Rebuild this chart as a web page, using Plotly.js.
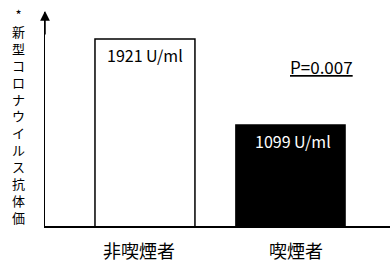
<!DOCTYPE html>
<html><head><meta charset="utf-8">
<script src="https://cdn.plot.ly/plotly-3.0.1.min.js"></script>
<style>html,body{margin:0;padding:0;background:#fff}#chart{width:390px;height:264px}</style>
</head><body><div id="chart"></div>
<script>
const categories = ['非喫煙者', '喫煙者'];
const values = [1921, 1099];
const unit = 'U/ml';
const barColors = ['#ffffff', '#000000'];
const labelColors = ['#000000', '#ffffff'];
const barWidths = [0.687, 0.75];
const pValue = 'P=0.007';
const yTitle = '*新型コロナウイルス抗体価';

const FONT = '"Noto Sans CJK JP", "Noto Sans", sans-serif';
const xs = categories.map((c, i) => i);

const annotations = [];
values.forEach((v, i) => {
  annotations.push({
    x: xs[i], y: v, xref: 'x', yref: 'y', yanchor: 'middle', yshift: -16,
    xshift: i === 1 ? 3 : 0,
    text: v + ' ' + unit, showarrow: false,
    font: {family: FONT, size: 16, color: labelColors[i]}
  });
});
categories.forEach((c, i) => {
  annotations.push({
    x: xs[i], y: 0, xref: 'x', yref: 'paper', yanchor: 'middle', yshift: -24,
    xshift: i === 0 ? -6 : 6,
    text: c, showarrow: false,
    font: {family: FONT, size: 18, color: '#000'}
  });
});
annotations.push({
  x: 0.8, y: 0.745, xref: 'paper', yref: 'paper', xanchor: 'center', yanchor: 'middle',
  text: '<u>' + pValue + '</u>', showarrow: false,
  font: {family: FONT, size: 17, color: '#000'}
});
annotations.push({
  x: 0, y: 1, xref: 'paper', yref: 'paper', xanchor: 'center', yanchor: 'top',
  xshift: -27, yshift: 9,
  text: Array.from(yTitle).join('<br>'), showarrow: false,
  font: {family: FONT, size: 13, color: '#000'}
});
// arrowhead at the top of the y axis
annotations.push({
  x: 0, y: 1.005, xref: 'paper', yref: 'paper', ax: 0, ay: 25,
  text: '', showarrow: true, arrowhead: 2, arrowsize: 1.3, arrowwidth: 1.5,
  arrowcolor: '#000', standoff: 0
});

const trace = {
  type: 'bar', x: xs, y: values, width: barWidths,
  marker: {color: barColors, line: {color: '#000', width: 1.5}},
  hoverinfo: 'none'
};

const layout = {
  width: 390, height: 264,
  margin: {l: 45, r: 0, t: 12, b: 38},
  paper_bgcolor: '#fff', plot_bgcolor: '#fff',
  showlegend: false,
  xaxis: {range: [-0.687, 1.684], showline: true, linecolor: '#000', linewidth: 1.5,
          showticklabels: false, ticks: '', showgrid: false, zeroline: false, fixedrange: true},
  yaxis: {range: [134, 2179], showline: true, linecolor: '#000', linewidth: 1.5,
          showticklabels: false, ticks: '', showgrid: false, zeroline: false, fixedrange: true},
  annotations: annotations,
  font: {family: FONT}
};

Plotly.newPlot('chart', [trace], layout, {displayModeBar: false, staticPlot: true});
</script>
</body></html>
